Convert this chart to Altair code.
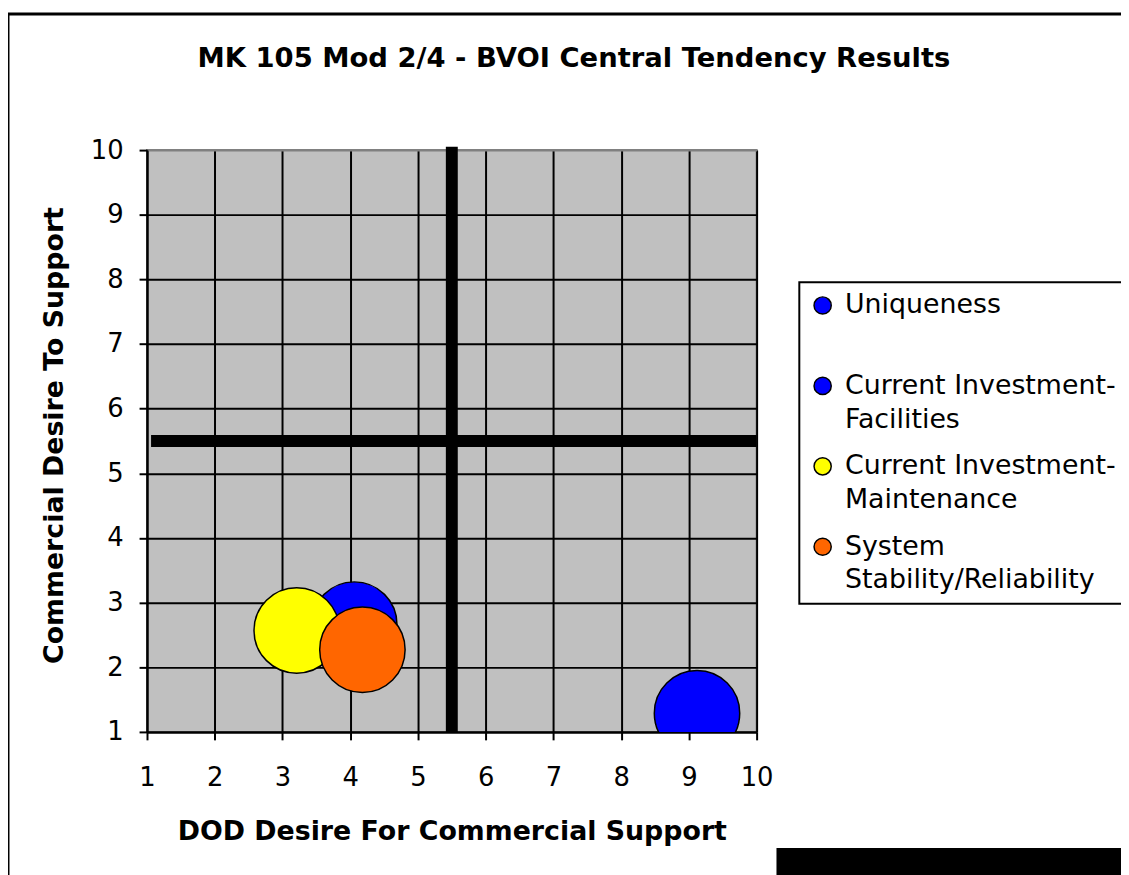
import altair as alt
import pandas as pd

# ---- data ----
series = [
    "Uniqueness",
    "Current Investment-Facilities",
    "Current Investment-Maintenance",
    "System Stability/Reliability",
]
dod_desire = [9.12, 4.06, 3.21, 4.18]
commercial_desire = [1.29, 2.66, 2.57, 2.27]
bubble_size = [1, 1, 1, 1]
colors = ["#0000FF", "#0000FF", "#FFFF00", "#FF6600"]
legend_lines = [
    ["Uniqueness", " "],
    ["Current Investment-", "Facilities"],
    ["Current Investment-", "Maintenance"],
    ["System", "Stability/Reliability"],
]
tick_values = [1, 2, 3, 4, 5, 6, 7, 8, 9, 10]

# quadrant divider lines
vline_x = [5.5]
vline_y = [1.0]
vline_y2 = [10.05]
hline_y = [5.5]
hline_x = [1.06]
hline_x2 = [10.0]

FONT = "DejaVu Sans"
W, H = 614, 586

df = pd.DataFrame({
    "series": series,
    "dod": dod_desire,
    "commercial": commercial_desire,
    "bubble": bubble_size,
})
vdf = pd.DataFrame({"x": vline_x, "y": vline_y, "y2": vline_y2})
hdf = pd.DataFrame({"y": hline_y, "x": hline_x, "x2": hline_x2})

label_expr = ""
for name, lines in zip(series, legend_lines):
    arr = "[" + ",".join("'" + l + "'" for l in lines) + "]"
    label_expr += f"datum.label == '{name}' ? {arr} : "
label_expr += "datum.label"

xscale = alt.Scale(domain=[1, 10], nice=False, zero=False)
yscale = alt.Scale(domain=[1, 10], nice=False, zero=False)

x_axis = alt.Axis(
    title="DOD Desire For Commercial Support",
    values=tick_values, format="d",
    labelFontSize=26, labelFont=FONT, labelColor="black", labelPadding=25,
    labelFlush=False, labelOverlap=False,
    tickSize=8, tickWidth=2, tickColor="black",
    domainColor="black", domainWidth=2,
    grid=True, gridColor="black", gridWidth=2,
    titleFont=FONT, titleFontSize=27, titleFontWeight="bold", titleColor="black",
    titleX=W / 2, titleY=100, titleBaseline="middle", titleAlign="center",
)
y_axis = alt.Axis(
    title="Commercial Desire To Support",
    values=tick_values, format="d",
    labelFontSize=26, labelFont=FONT, labelColor="black", labelPadding=16,
    labelFlush=False, labelOverlap=False,
    tickSize=8, tickWidth=2, tickColor="black",
    domainColor="black", domainWidth=2,
    grid=True, gridWidth=2,
    gridColor=alt.condition("datum.value == 10", alt.value("#808080"), alt.value("black")),
    titleFont=FONT, titleFontSize=27, titleFontWeight="bold", titleColor="black",
    titleX=-93, titleY=H / 2 - 6, titleAngle=270, titleBaseline="middle", titleAlign="center",
)

vrule = alt.Chart(vdf).mark_rule(color="black", strokeWidth=12).encode(
    x=alt.X("x:Q", scale=xscale, axis=x_axis),
    y=alt.Y("y:Q", scale=yscale, axis=y_axis),
    y2="y2:Q",
)
hrule = alt.Chart(hdf).mark_rule(color="black", strokeWidth=12).encode(
    x=alt.X("x:Q", scale=xscale),
    x2="x2:Q",
    y=alt.Y("y:Q", scale=yscale),
)

bubbles = alt.Chart(df).mark_circle(
    opacity=1, stroke="black", strokeWidth=1.5, clip=True
).encode(
    x=alt.X("dod:Q", scale=xscale),
    y=alt.Y("commercial:Q", scale=yscale),
    size=alt.Size("bubble:Q", scale=alt.Scale(domain=[0, 1], range=[0, 7400]), legend=None),
    color=alt.Color(
        "series:N",
        scale=alt.Scale(domain=series, range=colors),
        sort=series,
        legend=alt.Legend(
            title=None, orient="none", legendX=657, legendY=133,
            padding=10, rowPadding=19, fillColor="white", strokeColor="black",
            labelFont=FONT, labelFontSize=27, labelColor="black", labelLimit=500,
            labelOffset=9, labelExpr=label_expr,
            symbolType="circle", symbolSize=300,
            symbolStrokeColor="black", symbolStrokeWidth=1.5,
        ),
    ),
)

one = alt.Data(values=[{}])
frame = alt.Chart(one).mark_rect(fill="white", fillOpacity=0, stroke="black", strokeWidth=3).encode(
    x=alt.value(-140), x2=alt.value(1200), y=alt.value(-137), y2=alt.value(900)
)
corner_block = alt.Chart(one).mark_rect(color="black").encode(
    x=alt.value(634), x2=alt.value(1200), y=alt.value(703), y2=alt.value(900)
)

chart = alt.layer(vrule, hrule, bubbles, frame, corner_block).properties(
    width=W, height=H,
    padding={"left": 140, "top": 140, "right": 367, "bottom": 141},
    autosize=alt.AutoSizeParams(type="none"),
    title=alt.TitleParams(
        "MK 105 Mod 2/4 - BVOI Central Tendency Results",
        font=FONT, fontSize=27.6, fontWeight="bold", color="black",
        anchor="middle", frame="group", dx=123, dy=64,
    ),
).configure(
    background="white", style={"guide-label": {"lineHeight": 34}}
).configure_view(
    fill="#C0C0C0", stroke="#808080", strokeWidth=2
).configure_legend(
    strokeWidth=2
)

chart.save("out.html", embed_options={"renderer": "svg", "actions": False})
